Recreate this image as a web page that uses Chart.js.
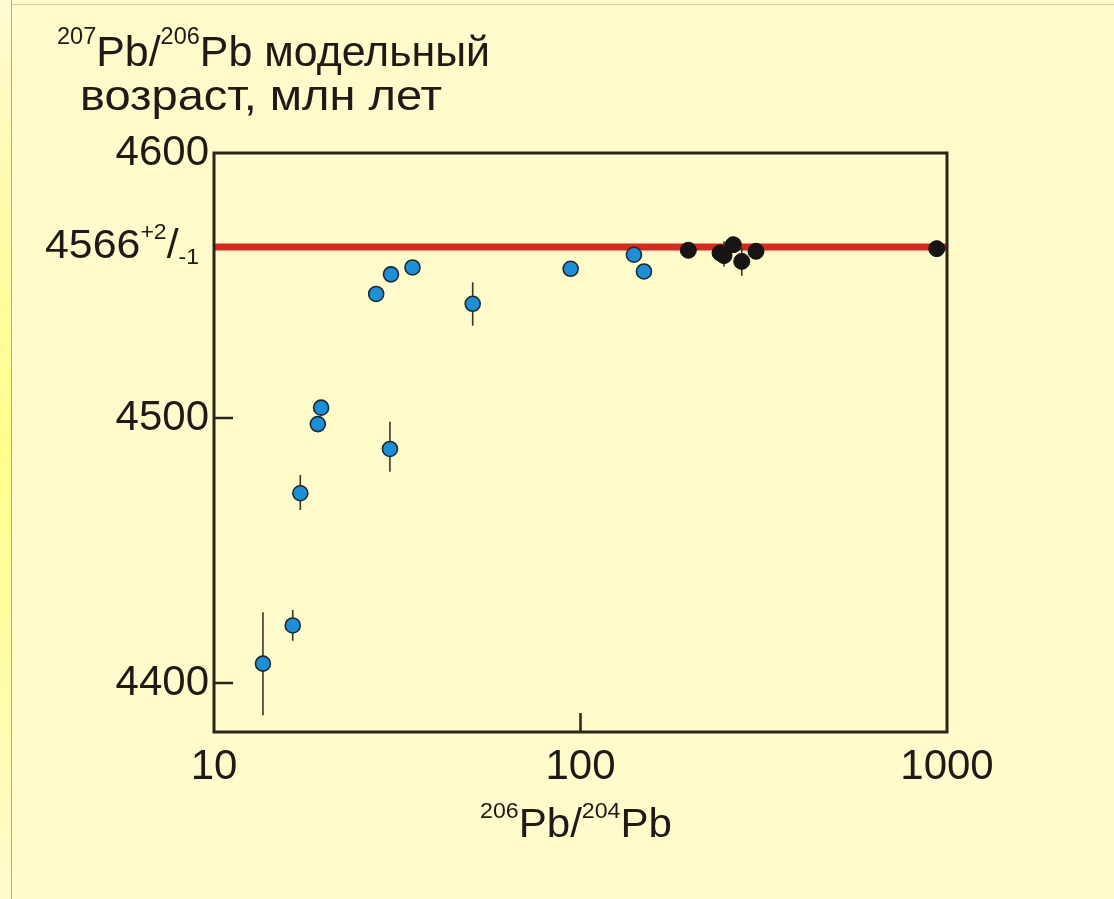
<!DOCTYPE html>
<html><head><meta charset="utf-8">
<script src="https://cdn.jsdelivr.net/npm/chart.js@4"></script>
<style>
html,body{margin:0;padding:0;background:#FFFBCB;width:1114px;height:899px;overflow:hidden;}
#strip{position:absolute;left:0;top:0;width:11px;height:899px;background:linear-gradient(to bottom,#FFFBD2 0%,#FFFAA8 25%,#FFFF8C 50%,#FFFCA8 75%,#FFFBCE 100%);border-right:1px solid #B5AD88;}
#topline{position:absolute;left:12px;top:4px;width:1102px;height:1px;background:#D6CEA8;}
canvas{position:absolute;left:0;top:0;}
</style></head><body>
<div id="strip"></div><div id="topline"></div>
<canvas id="c" width="1114" height="899"></canvas>
<script>
// ---- data ----
const xTicks = [10, 100, 1000];
const yTicks = [4400, 4500, 4600];
const refAge = 4564.5;           // red reference line (labelled 4566 +2/-1)
const blueX = [13.6, 16.4, 17.2, 19.2, 19.6, 30.2, 27.7, 30.4, 34.8, 50.8, 94.0, 139.9, 149.0];
const blueY = [4407.3, 4421.7, 4471.6, 4497.7, 4503.9, 4488.3, 4546.8, 4554.2, 4556.8, 4543.1, 4556.3, 4561.6, 4555.3];
const blackX = [196.9, 240.3, 246.4, 261.2, 275.4, 301.2, 937.5];
const blackY = [4563.3, 4562.3, 4561.3, 4565.4, 4559.1, 4562.9, 4563.9];
const errX = [13.6, 16.4, 17.2, 30.2, 50.8, 246.4, 275.4];
const errLow = [4387.8, 4415.9, 4465.3, 4479.7, 4534.8, 4557.2, 4553.7];
const errHigh = [4426.7, 4427.5, 4478.5, 4498.6, 4551.2, 4566.7, 4564.2];

const FONT = "'Liberation Sans', Arial, sans-serif";
const INK = '#1E1B16';

const bluePts = blueX.map((x, i) => ({x, y: blueY[i]}));
const blackPts = blackX.map((x, i) => ({x, y: blackY[i]}));
const errPts = [];
errX.forEach((x, i) => { errPts.push({x, y: errLow[i]}, {x, y: errHigh[i]}, {x, y: null}); });
const refPts = [{x: xTicks[0], y: refAge}, {x: xTicks[xTicks.length - 1], y: refAge}];

function drawRuns(ctx, runs, x, baseline, targetW) {
  ctx.save();
  let w = 0;
  runs.forEach(r => { ctx.font = r.size + 'px ' + FONT; w += ctx.measureText(r.t).width; });
  const sx = targetW ? targetW / w : 1;
  ctx.translate(x, baseline);
  ctx.scale(sx, 1);
  ctx.fillStyle = INK;
  ctx.textBaseline = 'alphabetic';
  ctx.textAlign = 'left';
  let cx = 0;
  runs.forEach(r => {
    ctx.font = r.size + 'px ' + FONT;
    ctx.fillText(r.t, cx, r.dy || 0);
    cx += ctx.measureText(r.t).width;
  });
  ctx.restore();
}

const framePlugin = {
  id: 'frame',
  afterDatasetsDraw(chart) {
    const {ctx, chartArea: a, scales} = chart;
    ctx.save();
    ctx.strokeStyle = '#2A2419';
    ctx.lineWidth = 3;
    ctx.strokeRect(a.left, a.top, a.right - a.left, a.bottom - a.top);
    ctx.lineWidth = 2.5;
    ctx.beginPath();
    [yTicks[0], yTicks[1]].forEach(v => {
      const y = scales.y.getPixelForValue(v);
      ctx.moveTo(a.left, y); ctx.lineTo(a.left + 19, y);
    });
    const xm = scales.x.getPixelForValue(xTicks[1]);
    ctx.moveTo(xm, a.bottom); ctx.lineTo(xm, a.bottom - 19);
    ctx.stroke();
    ctx.restore();
  },
  afterDraw(chart) {
    const ctx = chart.ctx;
    drawRuns(ctx, [{t: '207', size: 23, dy: -22}, {t: 'Pb/', size: 42}, {t: '206', size: 23, dy: -22}, {t: 'Pb модельный', size: 42}], 57, 66, 433);
    drawRuns(ctx, [{t: 'возраст, млн лет', size: 42}], 80, 110, 362);
    drawRuns(ctx, [{t: String(4566), size: 41}, {t: '+2', size: 22, dy: -19}, {t: '/', size: 41}, {t: '-1', size: 22, dy: 6}], 45, 258, 154);
    drawRuns(ctx, [{t: '206', size: 22, dy: -19}, {t: 'Pb/', size: 40}, {t: '204', size: 22, dy: -19}, {t: 'Pb', size: 40}], 480, 837, 192);
  }
};

new Chart(document.getElementById('c'), {
  type: 'scatter',
  data: {
    datasets: [
      {data: refPts, showLine: true, borderColor: '#D7291F', borderWidth: 7, pointRadius: 0, order: 4, clip: false},
      {data: errPts, showLine: true, spanGaps: false, borderColor: '#3A3528', borderWidth: 1.6, pointRadius: 0, order: 3, clip: false},
      {data: bluePts, backgroundColor: '#1A8FDA', borderColor: '#1E2932', borderWidth: 1.6, pointRadius: 7.5, order: 1, clip: false},
      {data: blackPts, backgroundColor: '#161513', borderColor: '#111', borderWidth: 1, pointRadius: 8, order: 1, clip: false}
    ]
  },
  options: {
    responsive: false, animation: false,
    layout: {padding: {top: 153, right: 167, bottom: 0, left: 0}},
    plugins: {legend: {display: false}, tooltip: {enabled: false}},
    scales: {
      x: {
        type: 'logarithmic', min: xTicks[0], max: xTicks[xTicks.length - 1],
        afterBuildTicks: s => { s.ticks = xTicks.map(v => ({value: v})); },
        afterFit: s => { s.height = 167; },
        grid: {display: false, drawTicks: false, tickLength: 0},
        border: {display: false},
        ticks: {color: INK, font: {family: FONT, size: 42}, padding: 10, maxRotation: 0, autoSkip: false, callback: v => String(v)}
      },
      y: {
        type: 'linear', min: 4381.5, max: yTicks[yTicks.length - 1],
        afterBuildTicks: s => { s.ticks = yTicks.map(v => ({value: v})); },
        afterFit: s => { s.width = 214; },
        grid: {display: false, drawTicks: false, tickLength: 0},
        border: {display: false},
        ticks: {color: INK, font: {family: FONT, size: 42}, padding: 5, autoSkip: false, callback: v => String(v)}
      }
    }
  },
  plugins: [framePlugin]
});
</script></body></html>
